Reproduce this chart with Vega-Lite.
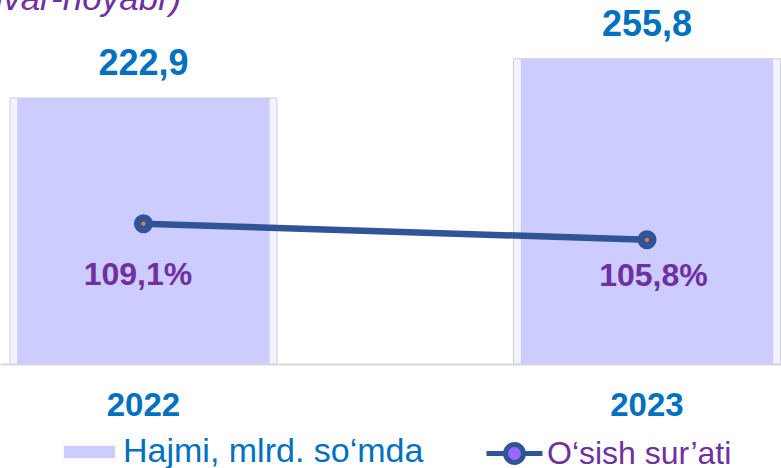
{
  "$schema": "https://vega.github.io/schema/vega-lite/v6.json",
  "width": 781,
  "height": 364,
  "autosize": {"type": "none"},
  "padding": {"left": 0, "top": 0, "right": 0, "bottom": 104},
  "background": "white",
  "config": {
    "view": {"stroke": null},
    "font": "Liberation Sans",
    "locale": {"number": {"decimal": ",", "thousands": " ", "grouping": [3], "currency": ["", ""]}}
  },
  "data": {
    "values": [
      {"yil": "2022", "hajm": 222.9, "osish": 1.091},
      {"yil": "2023", "hajm": 255.8, "osish": 1.058}
    ]
  },
  "encoding": {
    "x": {
      "field": "yil",
      "type": "nominal",
      "scale": {"paddingInner": 0.4697, "paddingOuter": 0.0104, "align": 0.95},
      "axis": {
        "title": null,
        "labelAngle": 0,
        "ticks": false,
        "tickSize": 0,
        "labelPadding": 25,
        "labelFont": "Liberation Sans",
        "labelFontSize": 33,
        "labelFontWeight": "bold",
        "labelColor": "#0070c0",
        "domainColor": "#d9d9d9",
        "domainWidth": 2,
        "grid": false
      }
    }
  },
  "layer": [
    {
      "layer": [
        {
          "mark": {"type": "bar", "color": "#f3f3ff", "stroke": "#cfcfdc", "strokeWidth": 1},
          "encoding": {
            "y": {"field": "hajm", "type": "quantitative", "scale": {"domain": [0, 305], "nice": false}, "axis": null}
          }
        },
        {
          "mark": {"type": "bar", "width": {"band": 0.945}},
          "encoding": {
            "y": {"field": "hajm", "type": "quantitative", "axis": null},
            "fill": {
              "datum": "Hajmi, mlrd. so‘mda",
              "scale": {"range": ["#ccccff"]},
              "legend": {
                "orient": "none",
                "legendX": 63,
                "legendY": 425.5,
                "title": null,
                "padding": 0,
                "symbolType": "M-1,-0.25H1V0.25H-1Z",
                "symbolSize": 2704,
                "symbolStrokeColor": "#f6f6ff",
                "symbolStrokeWidth": 1,
                "symbolOpacity": 1,
                "labelFont": "Liberation Sans",
                "labelFontSize": 34,
                "labelColor": "#0070c0",
                "labelOffset": 7,
                "labelLimit": 0
              }
            }
          }
        },
        {
          "mark": {"type": "text", "fontSize": 36, "fontWeight": "bold", "color": "#0070c0", "baseline": "alphabetic", "dy": -23},
          "encoding": {
            "y": {"field": "hajm", "type": "quantitative", "axis": null},
            "text": {"field": "hajm", "type": "quantitative", "format": ".1f"}
          }
        },
        {
          "data": {"values": [{"t": "(yanvar-noyabr)"}]},
          "mark": {"type": "text", "fontSize": 35, "fontStyle": "italic", "color": "#7030a0", "align": "right", "baseline": "alphabetic", "dx": 38},
          "encoding": {
            "x": {"datum": "2022"},
            "y": {"datum": 296.6, "type": "quantitative"},
            "text": {"field": "t", "type": "nominal"}
          }
        }
      ]
    },
    {
      "layer": [
        {
          "mark": {"type": "line", "strokeWidth": 6.5},
          "encoding": {
            "y": {"field": "osish", "type": "quantitative", "scale": {"domain": [0.802, 1.552], "nice": false, "zero": false}, "axis": null},
            "stroke": {
              "datum": "O‘sish sur’ati",
              "scale": {"range": ["#2f5597"]},
              "legend": {
                "orient": "none",
                "legendX": 484,
                "legendY": 423,
                "title": null,
                "padding": 0,
                "symbolType": "M-1,0H-0.4M0.4,0H1M0.32,0A0.32,0.32,0,1,1,-0.32,0A0.32,0.32,0,1,1,0.32,0Z",
                "symbolSize": 3136,
                "symbolStrokeWidth": 5,
                "symbolFillColor": "#9966ff",
                "symbolOpacity": 1,
                "labelFont": "Liberation Sans",
                "labelFontSize": 32,
                "labelColor": "#7030a0",
                "labelOffset": 2,
                "labelLimit": 0
              }
            }
          }
        },
        {
          "mark": {"type": "circle", "size": 366, "color": "#2f5597", "opacity": 1},
          "encoding": {"y": {"field": "osish", "type": "quantitative", "axis": null}}
        },
        {
          "mark": {"type": "circle", "size": 18, "color": "#ed7d31", "opacity": 1},
          "encoding": {"y": {"field": "osish", "type": "quantitative", "axis": null}}
        },
        {
          "transform": [{"filter": "datum.yil == '2022'"}],
          "mark": {"type": "text", "fontSize": 32, "fontWeight": "bold", "color": "#7030a0", "baseline": "alphabetic", "dx": -5.5, "dy": 61},
          "encoding": {
            "y": {"field": "osish", "type": "quantitative", "axis": null},
            "text": {"field": "osish", "type": "quantitative", "format": ".1%"}
          }
        },
        {
          "transform": [{"filter": "datum.yil == '2023'"}],
          "mark": {"type": "text", "fontSize": 32, "fontWeight": "bold", "color": "#7030a0", "baseline": "alphabetic", "dx": 6.5, "dy": 46},
          "encoding": {
            "y": {"field": "osish", "type": "quantitative", "axis": null},
            "text": {"field": "osish", "type": "quantitative", "format": ".1%"}
          }
        }
      ]
    }
  ],
  "resolve": {"scale": {"y": "independent"}}
}
